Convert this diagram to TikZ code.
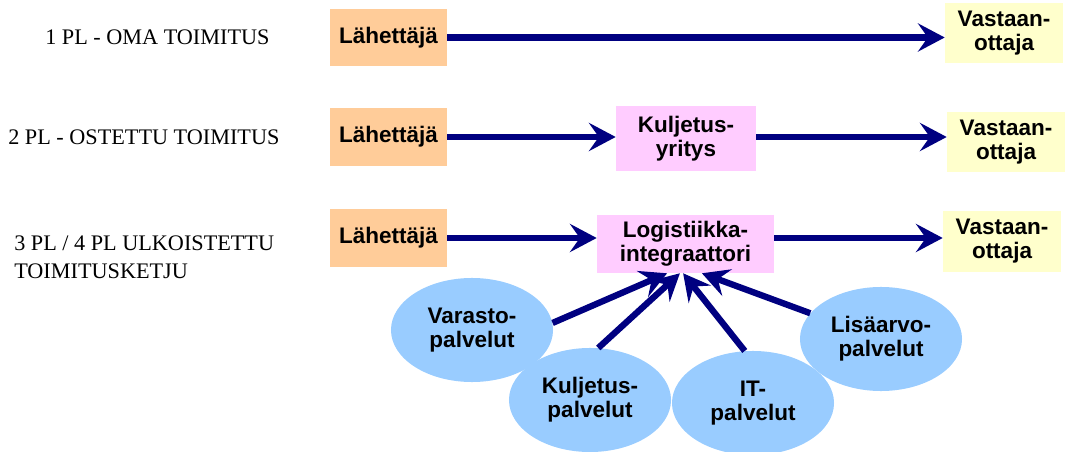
\documentclass[tikz,border=0pt]{standalone}
\usepackage{fontspec}
\setmainfont{Liberation Serif}
\newfontfamily\boxfont{Liberation Sans}
\usetikzlibrary{arrows.meta,shapes.geometric}

\definecolor{navyarrow}{RGB}{0,0,128}
\definecolor{peach}{RGB}{255,204,153}
\definecolor{pinkbox}{RGB}{255,204,255}
\definecolor{paleyellow}{RGB}{255,255,204}
\definecolor{skyblue}{RGB}{153,204,255}

\tikzset{
  flow/.style={draw=navyarrow, line width=4.5pt,
    -{Stealth[length=19pt,width=20pt,inset=7pt]}},
  boxtext/.style={font=\boxfont\bfseries\fontsize{16}{17}\selectfont, align=center, inner sep=0pt},
  sender/.style={boxtext, fill=peach, minimum width=2.925cm, minimum height=1.425cm},
  receiver/.style={boxtext, fill=paleyellow, minimum width=2.95cm, minimum height=1.5cm},
  middlebox/.style={boxtext, fill=pinkbox},
  service/.style={boxtext, ellipse, fill=skyblue, minimum width=4.05cm, minimum height=2.6cm},
  rowlabel/.style={font=\fontsize{15.8}{20}\selectfont, align=left, inner sep=0pt, anchor=west}
}

\begin{document}
\begin{tikzpicture}[x=0.025cm, y=-0.025cm]
  \useasboundingbox (0,0) rectangle (1065,452);

  % 1 PL
  \node[rowlabel] (lab1) at (45,37) {1 PL - OMA TOIMITUS};
  \node[sender] (send1) at (388.5,37.5) {Lähettäjä};
  \node[receiver] (recv1) at (1004,33) {Vastaan-\\ottaja};
  \draw[flow] (send1) -- (recv1.west |- send1.east);

  % 2 PL
  \node[rowlabel] (lab2) at (8,137) {2 PL - OSTETTU TOIMITUS};
  \node[sender] (send2) at (388.5,137) {Lähettäjä};
  \node[middlebox, minimum width=3.5cm, minimum height=1.625cm] (carrier) at (686,138.5) {Kuljetus-\\yritys};
  \node[receiver] (recv2) at (1006,142) {Vastaan-\\ottaja};
  \draw[flow] (send2) -- (carrier.west |- send2.east);
  \draw[flow] (carrier.east |- send2.east) -- (recv2.west |- send2.east);

  % 3 PL / 4 PL
  \node[rowlabel] (lab3) at (14,257) {3 PL / 4 PL ULKOISTETTU\\TOIMITUSKETJU};
  \node[sender] (send3) at (388.5,238) {Lähettäjä};
  \node[middlebox, minimum width=4.425cm, minimum height=1.45cm] (integr) at (685.5,244) {Logistiikka-\\integraattori};
  \node[receiver] (recv3) at (1002,241.5) {Vastaan-\\ottaja};
  \draw[flow] (send3) -- (integr.west |- send3.east);
  \draw[flow] (integr.east |- send3.east) -- (recv3.west |- send3.east);

  % palvelut
  \node[service] (stock) at (472,330) {Varasto-\\palvelut};
  \node[service] (transp) at (590,400) {Kuljetus-\\palvelut};
  \node[service] (itserv) at (753,403) {IT-\\palvelut};
  \node[service] (added) at (881,339) {Lisäarvo-\\palvelut};
  \draw[flow] (stock.5) -- ([xshift=-0.46cm]integr.south);
  \draw[flow] (transp.81) -- ([xshift=-0.14cm]integr.south);
  \draw[flow] (itserv.99) -- ([xshift=-0.06cm]integr.south);
  \draw[flow] (added.160) -- ([xshift=0.41cm]integr.south);
\end{tikzpicture}
\end{document}
